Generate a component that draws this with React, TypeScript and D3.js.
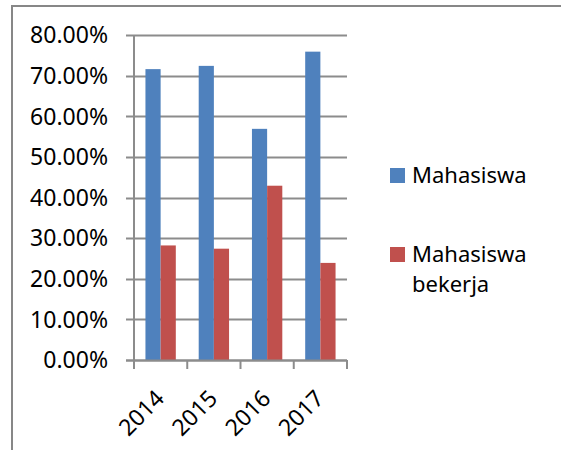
import { useEffect, useRef } from 'react'
import * as d3 from 'd3'

const years = ['2014', '2015', '2016', '2017']
const mahasiswa = [0.716, 0.724, 0.569, 0.759]
const bekerja = [0.282, 0.274, 0.429, 0.239]
const yTicks = [0, 0.1, 0.2, 0.3, 0.4, 0.5, 0.6, 0.7, 0.8]
const seriesNames = ['Mahasiswa', 'Mahasiswa bekerja']
const colors = ['#4f81bd', '#c0504d']

export default function App() {
  const svgRef = useRef<SVGSVGElement>(null)

  useEffect(() => {
    if (!svgRef.current) return
    const svg = d3.select(svgRef.current)
    svg.selectAll('*').remove()

    const width = 561
    const height = 450
    const margin = { top: 35, left: 134, right: 214, bottom: 90 }
    const font = '"Noto Sans", sans-serif'

    // outer chart border (only left and top visible in the crop)
    svg.append('rect')
      .attr('x', 12)
      .attr('y', 6)
      .attr('width', width)
      .attr('height', height)
      .attr('fill', 'white')
      .attr('stroke', '#878787')
      .attr('stroke-width', 2)

    const x = d3.scaleBand()
      .domain(years)
      .range([margin.left, width - margin.right])
      .paddingInner(0.43)
      .paddingOuter(0.215)

    const y = d3.scaleLinear()
      .domain([0, 0.8])
      .range([height - margin.bottom, margin.top])

    const x0 = margin.left
    const x1 = width - margin.right
    const step = (x1 - x0) / years.length

    // gridlines
    svg.append('g')
      .selectAll('line')
      .data(yTicks)
      .join('line')
      .attr('x1', x0 - 8)
      .attr('x2', x1)
      .attr('y1', d => Math.round(y(d)) + 0.5)
      .attr('y2', d => Math.round(y(d)) + 0.5)
      .attr('stroke', '#8c8c8c')
      .attr('stroke-width', 2)

    // y labels
    svg.append('g')
      .selectAll('text')
      .data(yTicks)
      .join('text')
      .attr('x', 108)
      .attr('y', d => y(d))
      .attr('dy', '0.36em')
      .attr('text-anchor', 'end')
      .attr('font-family', font)
      .attr('font-size', 23)
      .attr('fill', '#000')
      .text(d => d3.format('.2%')(d))

    // bars
    const bw = x.bandwidth() / 2
    const series = [mahasiswa, bekerja]
    series.forEach((vals, si) => {
      svg.append('g')
        .selectAll('rect')
        .data(vals)
        .join('rect')
        .attr('x', (d, i) => (x(years[i]) as number) + si * bw)
        .attr('y', d => y(d))
        .attr('width', bw)
        .attr('height', d => y(0) - y(d))
        .attr('fill', colors[si])
    })

    // axes lines
    svg.append('line')
      .attr('x1', x0).attr('x2', x0)
      .attr('y1', y(0.8)).attr('y2', y(0) + 9)
      .attr('stroke', '#8c8c8c').attr('stroke-width', 2)
    svg.append('line')
      .attr('x1', x0 - 8).attr('x2', x1)
      .attr('y1', Math.round(y(0)) + 0.5).attr('y2', Math.round(y(0)) + 0.5)
      .attr('stroke', '#8c8c8c').attr('stroke-width', 2)

    // category ticks
    svg.append('g')
      .selectAll('line')
      .data(d3.range(years.length + 1))
      .join('line')
      .attr('x1', i => x0 + i * step)
      .attr('x2', i => x0 + i * step)
      .attr('y1', y(0))
      .attr('y2', y(0) + 9)
      .attr('stroke', '#8c8c8c')
      .attr('stroke-width', 2)

    // x labels
    svg.append('g')
      .selectAll('text')
      .data(years)
      .join('text')
      .attr('transform', d => `translate(${(x(d) as number) + x.bandwidth() / 2 + 5},${y(0) + 40}) rotate(-45)`)
      .attr('text-anchor', 'end')
      .attr('font-family', font)
      .attr('font-size', 23)
      .attr('fill', '#000')
      .text(d => d)

    // legend
    const legend = svg.append('g')
    const legendY = [168, 247]
    seriesNames.forEach((name, i) => {
      legend.append('rect')
        .attr('x', 390)
        .attr('y', legendY[i])
        .attr('width', 15)
        .attr('height', 15)
        .attr('fill', colors[i])
      const words = i === 0 ? [name] : ['Mahasiswa', 'bekerja']
      const t = legend.append('text')
        .attr('font-family', font)
        .attr('font-size', 22)
        .attr('fill', '#000')
      words.forEach((w, j) => {
        t.append('tspan')
          .attr('x', 412)
          .attr('y', legendY[i] + 15 + j * 30)
          .text(w)
      })
    })
  }, [])

  return <svg ref={svgRef} width={561} height={450} style={{ display: 'block', position: 'absolute', left: 0, top: 0 }} />
}
